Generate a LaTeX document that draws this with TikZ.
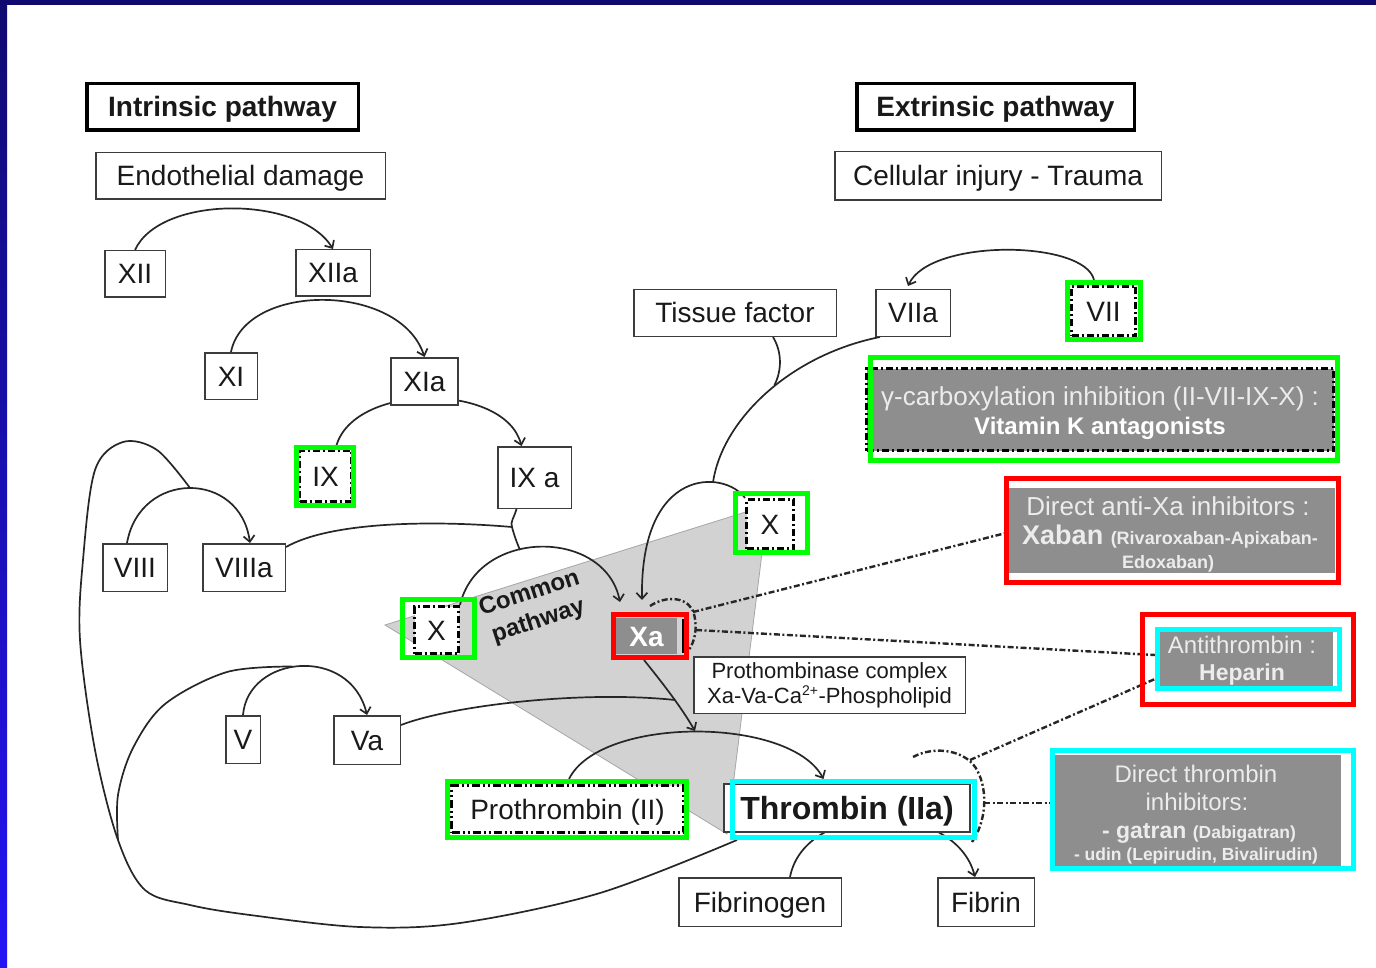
\documentclass[tikz,border=0pt]{standalone}
\usepackage{fontspec}
\setmainfont{Liberation Sans}
\usetikzlibrary{arrows.meta,calc}
\definecolor{navy}{RGB}{16,10,112}
\definecolor{brblue}{RGB}{36,20,245}
\definecolor{grn}{RGB}{0,255,0}
\definecolor{rd}{RGB}{255,0,0}
\definecolor{cy}{RGB}{0,255,255}
\definecolor{inhgray}{RGB}{142,142,142}
\definecolor{trigray}{RGB}{210,210,210}
\definecolor{boxline}{RGB}{60,60,60}
\definecolor{lighttxt}{RGB}{236,236,236}
\definecolor{txt}{RGB}{25,25,25}
\pgfdeclarelayer{paper}
\pgfdeclarelayer{tri}
\pgfdeclarelayer{conn}
\pgfsetlayers{paper,tri,conn,main}
\begin{document}
\begin{tikzpicture}[x=1pt,y=-1pt,
  fs/.style={font=\fontsize{#1}{#1}\selectfont},
  bx/.style={draw=boxline, line width=1.5pt, fill=white, inner sep=0pt, text=txt, font=\fontsize{28}{30}\selectfont, text height=20pt, text depth=0pt},
  ttl/.style={bx, draw=black, line width=3.5pt, font=\bfseries\fontsize{28}{30}\selectfont},
  ddb/.style={bx, draw=black, line width=3pt, dash pattern=on 7pt off 3pt on 2pt off 3pt},
  grnbox/.style={draw=grn, line width=5pt, inner sep=0pt},
  redbox/.style={draw=rd, line width=5pt, inner sep=0pt},
  cybox/.style={draw=cy, line width=5pt, inner sep=0pt},
  inh/.style={fill=inhgray, inner sep=0pt},
  lt/.style={text=lighttxt, inner sep=0pt, anchor=base},
  conn/.style={draw=black!85, line width=1.7pt},
  arr/.style={conn, -{Straight Barb[length=6pt,width=11pt]}},
  dd/.style={draw=black!85, line width=2.4pt, dash pattern=on 6pt off 2.5pt on 2pt off 2.5pt}
]
\useasboundingbox (0,0) rectangle (1376,968);
\begin{pgfonlayer}{paper}
\fill[white] (0,0) rectangle (1376,968);
\shade[top color=navy, bottom color=brblue] (0,0) rectangle (7,968);
\fill[navy] (0,0) rectangle (1376,5);
\end{pgfonlayer}

\begin{pgfonlayer}{tri}
\filldraw[fill=trigray, draw=gray!70, line width=0.8pt] (385,625) -- (768,505) -- (727,834) -- cycle;
\end{pgfonlayer}

% ---- nodes ----
\node[ttl, minimum width=271.5pt, minimum height=46.5pt] (intr) at (222.5,107) {Intrinsic pathway};
\node[bx, minimum width=289.5pt, minimum height=46.5pt] (endo) at (240.5,176) {Endothelial damage};
\node[ttl, minimum width=277.5pt, minimum height=46.5pt] (extr) at (995.5,107) {Extrinsic pathway};
\node[bx, minimum width=326.5pt, minimum height=48.5pt] (cell) at (998,176) {Cellular injury - Trauma};
\node[bx, minimum width=60.5pt, minimum height=46.5pt] (xii) at (135,274) {XII};
\node[bx, minimum width=74.5pt, minimum height=46.5pt] (xiia) at (333,273) {XIIa};
\node[bx, minimum width=52.5pt, minimum height=46.5pt] (xi) at (231,376) {XI};
\node[bx, line width=2pt, minimum width=67pt, minimum height=47pt] (xia) at (424.5,381.5) {XIa};
\node[ddb, minimum width=52pt, minimum height=51pt] (ix) at (325.5,476) {IX};
\node[grnbox, minimum width=57pt, minimum height=58pt] (ixG) at (325,476.5) {};
\node[bx, minimum width=73.5pt, minimum height=61.5pt] (ixa) at (534.5,477.5) {IX a};
\node[bx, minimum width=64.5pt, minimum height=47.5pt] (viii) at (135,567.5) {VIII};
\node[bx, minimum width=82.5pt, minimum height=47.5pt] (viiia) at (244,567.5) {VIIIa};
\node[ddb, minimum width=44pt, minimum height=47pt] (xl) at (436.5,630) {X};
\node[grnbox, minimum width=72pt, minimum height=58pt] (xlG) at (438.5,628.5) {};
\node[rotate=18, align=center, inner sep=0pt, font=\bfseries\fontsize{24}{29}\selectfont, text=txt] (cp) at (534,608) {Common\\pathway};
\node[inh, minimum width=61pt, minimum height=36pt, text=white, font=\bfseries\fontsize{28}{28}\selectfont, text height=20pt, text depth=0pt] (xa) at (646.5,636) {Xa};
\draw[black, line width=2.5pt] (683,619) -- (683,653);
\node[redbox, minimum width=73pt, minimum height=43pt] (xaR) at (650,636) {};
\node[ddb, minimum width=47pt, minimum height=49pt] (xr) at (770,524) {X};
\node[grnbox, minimum width=72pt, minimum height=59pt] (xrG) at (771.5,523) {};
\node[bx, minimum width=202.5pt, minimum height=46.5pt] (tf) at (735,313) {Tissue factor};
\node[bx, minimum width=74.5pt, minimum height=46.5pt] (viia) at (913,313) {VIIa};
\node[ddb, minimum width=64pt, minimum height=49pt] (vii) at (1103.5,311) {VII};
\node[grnbox, minimum width=73pt, minimum height=57pt] (viiG) at (1104,311) {};
\node[draw=boxline, line width=1.5pt, fill=white, inner sep=0pt, minimum width=271.5pt, minimum height=56.5pt, align=center, text=txt, font=\fontsize{22}{25}\selectfont] (proth) at (829.5,685) {Prothombinase complex\\Xa-Va-Ca\textsuperscript{\fontsize{14}{14}\selectfont 2+}-Phospholipid};
\node[bx, minimum width=34.5pt, minimum height=47.5pt] (v) at (243,739.5) {V};
\node[bx, minimum width=66.5pt, minimum height=48.5pt] (va) at (367,740) {Va};
\node[ddb, minimum width=232pt, minimum height=47pt, dash pattern=on 8pt off 3pt on 2pt off 3pt on 2pt off 3pt] (pro2) at (567.5,809) {Prothrombin (II)};
\node[grnbox, minimum width=239pt, minimum height=56pt] (pro2G) at (567,809.5) {};
\node[bx, minimum width=246pt, minimum height=48pt, font=\bfseries\fontsize{32}{34}\selectfont, text height=23pt] (thr) at (847,808) {Thrombin (IIa)};
\node[cybox, minimum width=242pt, minimum height=56pt] (thrC) at (853.5,809.5) {};
\node[bx, minimum width=162.5pt, minimum height=48.5pt] (fbg) at (760,902) {Fibrinogen};
\node[bx, minimum width=96.5pt, minimum height=48.5pt] (fbn) at (986,902) {Fibrin};

% inhibitor boxes
\node[inh, draw=black, line width=3pt, dash pattern=on 7pt off 3pt on 2pt off 3pt, minimum width=467pt, minimum height=82pt] (gam) at (1100,409.5) {};
\node[grnbox, minimum width=467pt, minimum height=103pt] (gamG) at (1104,409) {};
\node[lt, fs=26] (gam1) at (1100,405) {γ-carboxylation inhibition (II-VII-IX-X) :};
\node[lt, text=white, font=\bfseries\fontsize{24}{24}\selectfont] (gam2) at (1100,434) {Vitamin K antagonists};

\node[inh, minimum width=327pt, minimum height=85pt] (axa) at (1171.5,530.5) {};
\node[redbox, minimum width=332pt, minimum height=104pt] (axaR) at (1172.5,530.5) {};
\node[lt, fs=26] (axa1) at (1168,515) {Direct anti-Xa inhibitors :};
\node[lt, font=\bfseries\fontsize{27}{27}\selectfont] (axa2) at (1170,544) {Xaban {\fontsize{18}{18}\selectfont (Rivaroxaban-Apixaban-}};
\node[lt, font=\bfseries\fontsize{18}{18}\selectfont] (axa3) at (1168,568) {Edoxaban)};

\node[redbox, minimum width=211pt, minimum height=90pt] (atR) at (1248,659.5) {};
\node[inh, minimum width=174pt, minimum height=54pt] (at) at (1246,659) {};
\node[cybox, minimum width=182pt, minimum height=59pt] (atC) at (1248.5,659) {};
\node[lt, fs=24] (at1) at (1242,653) {Antithrombin :};
\node[lt, font=\bfseries\fontsize{23}{23}\selectfont] (at2) at (1242,680) {Heparin};

\node[inh, minimum width=286pt, minimum height=112pt] (dti) at (1198,811) {};
\node[cybox, minimum width=301pt, minimum height=118pt] (dtiC) at (1203,809.5) {};
\node[lt, fs=24] (dti1) at (1196,782) {Direct thrombin};
\node[lt, fs=24] (dti2) at (1197,810) {inhibitors:};
\node[lt, font=\bfseries\fontsize{23}{23}\selectfont] (dti3) at (1199,838) {- gatran {\fontsize{17.5}{18}\selectfont (Dabigatran)}};
\node[lt, font=\bfseries\fontsize{17.5}{18}\selectfont] (dti4) at (1196,860) {- udin (Lepirudin, Bivalirudin)};

% ---- connectors ----
\begin{pgfonlayer}{conn}
\draw[arr] (xii.north) .. controls (160,195) and (300,195) .. (xiia.north);
\draw[arr] (xi.north) .. controls (245,282) and (400,282) .. (xia.north);
\draw[arr] ($(ix.north)+(10,0)$) .. controls (350,382) and (505,382) .. ($(ixa.north)+(-13,0)$);
\draw[arr] ($(viii.north)+(-8,0)$) .. controls (140,470) and (240,470) .. ($(viiia.north)+(6,0)$);
\coordinate (j8) at (190,488);
\coordinate (tl) at ($(thrC.south west)+(7,0)$);
\draw[conn] plot[smooth, tension=0.55] coordinates {(tl) (600,893) (460,923) (360,927) (250,915) (190,905) (145,890) (118,840) (95,750) (80,640) (83,560) (95,470) (123,442) (157,450) (j8)};
\coordinate (j5) at (118,840);
\coordinate (jv) at (292,666.5);
\draw[conn] plot[smooth, tension=0.55] coordinates {(j5) (118,795) (133,748) (165,704) (227,672) (jv)};
\draw[arr] (v.north) .. controls (248,655) and (350,645) .. (va.north);
\coordinate (j9) at (512,527);
\coordinate (jx) at (520,550);
\coordinate (ixs) at ($(ixa.south)+(-18,0)$);
\draw[conn] ($(viiia.north east)+(0,4)$) .. controls (330,522) and (430,520) .. (j9);
\draw[conn] (ixs) .. controls (514,518) and (510,522) .. (j9) .. controls (514,535) and (517,543) .. (jx);
\draw[arr] (xl.north east) .. controls (478,528) and (605,528) .. ($(xaR.north)+(-30,-10)$);
\coordinate (jxr) at (713,482.5);
\draw[arr] (xr.north west) .. controls (725,470) and (640,465) .. ($(xaR.north)+(-8,-12)$);
\draw[conn] ($(viia.south west)+(5,0)$) .. controls (790,355) and (722,420) .. (jxr);
\coordinate (jtf) at (774.5,385);
\draw[conn] ($(tf.south)+(38,0)$) .. controls (782,352) and (782,370) .. (jtf);
\coordinate (jpt) at (695,731);
\draw[arr] ($(xaR.south)+(-6,0)$) .. controls (660,680) and (680,705) .. (jpt);
\draw[arr] ($(pro2G.north)+(2,0)$) .. controls (600,716) and (790,716) .. ($(thrC.north)+(-30,0)$);
\coordinate (jva) at (675,700);
\draw[conn] ($(va.north east)+(0,10)$) .. controls (450,706) and (580,690) .. (jva);
\draw[arr] ($(fbg.north)+(30,0)$) .. controls (805,800) and (955,800) .. ($(fbn.north)+(-11,0)$);
\draw[arr] ($(viiG.north)+(-10,0)$) .. controls (1085,240) and (930,238) .. ($(viia.north)+(-5,-3)$);
% inhibition marks
\draw[dd] (650,606) .. controls (668,594) and (690,598) .. (694,614) .. controls (698,630) and (694,642) .. (689,650);
\coordinate (xam1) at (693,612);
\coordinate (xam2) at (696,630);
\draw[dd] (xam1) -- ($(axaR.west)+(0,3)$);
\draw[dd] (xam2) -- ($(atC.west)+(0,-4)$);
\draw[dd] (913,757) .. controls (935,745) and (968,750) .. (978,772) .. controls (988,792) and (986,822) .. (972,842);
\coordinate (thm1) at (970,760);
\coordinate (thm2) at (984,803);
\draw[dd] (thm1) -- ($(atC.south west)+(0,-12)$);
\draw[dd] (thm2) -- ($(dtiC.west)+(0,-6.5)$);
\end{pgfonlayer}
\end{tikzpicture}
\end{document}
